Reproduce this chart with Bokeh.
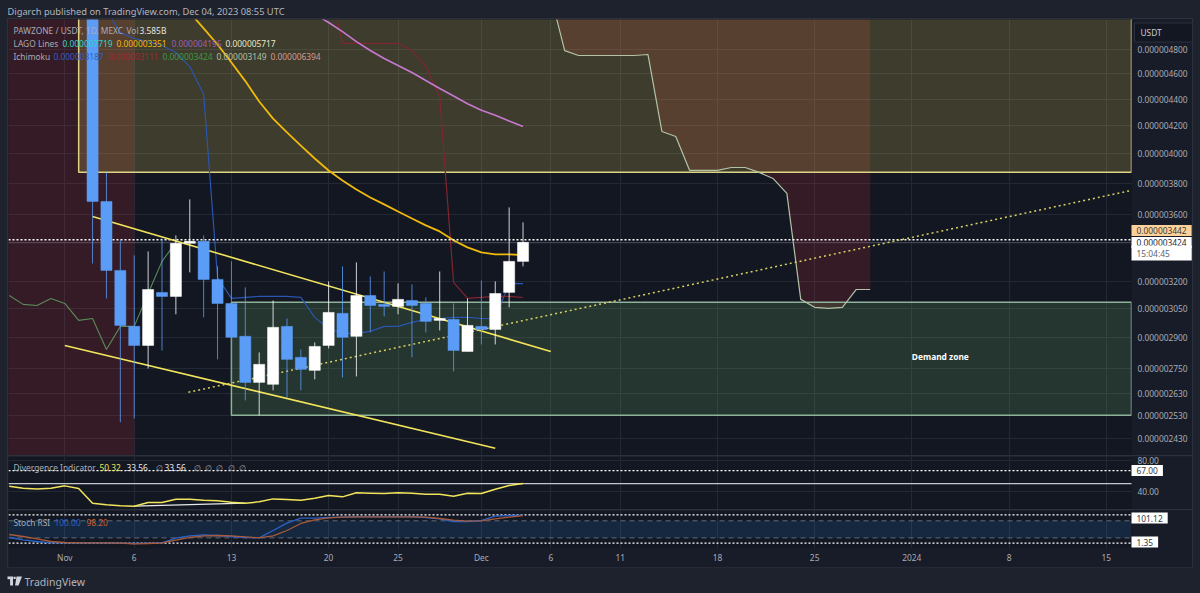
from bokeh.embed import file_html
from bokeh.resources import INLINE
from bokeh.layouts import column
from bokeh.models import (FixedTicker, Label, PrintfTickFormatter, Range1d)
from bokeh.plotting import figure
import numpy as np

# ---------- data (prices in billionths of USDT, days counted from 1 Nov 2023)
tick_days = [0, 5, 12, 19, 24, 30, 35, 40, 47, 54, 61, 68, 75]
tick_labels = ["Nov", "6", "13", "20", "25", "Dec", "6", "11", "18", "25", "2024", "8", "15"]
price_ticks = [4800, 4600, 4400, 4200, 4000, 3800, 3600, 3200, 3050, 2900, 2750, 2630, 2530, 2430]

candle_days = list(range(2, 34))
opens = [5300,3680,3262,2958,2861,3139,3117,3420,3432,3211,3079,2907,2682,2673,2958,2802,2739,2861,3026,2907,3122,3074,3063,3095,3079,2989,2994,2831,2958,2942,3139,3314]
closes = [3680,3262,2963,2861,3155,3117,3420,3432,3211,3079,2902,2682,2768,2953,2792,2744,2856,3031,2902,3122,3068,3063,3101,3068,2984,2999,2836,2963,2942,3133,3314,3426]
highs = [5600,3872,3438,3349,3372,3450,3468,3693,3468,3285,3314,3167,2826,3095,2999,2841,2876,3200,3285,3308,3228,3256,3189,3183,3112,3256,3079,3106,3205,3200,3642,3548]
lows = [3302,3106,2501,2518,2748,2836,3021,3251,3005,2792,2677,2599,2532,2645,2612,2645,2696,2846,2705,2710,2927,3010,3021,2802,2927,2937,2734,2831,2866,2866,3058,3285]

ma_days = list(range(9, 34))
ma_values = [5121,4980,4842,4692,4542,4383,4254,4152,4058,3967,3885,3818,3758,3706,3661,3616,3572,3529,3492,3438,3396,3366,3355,3355,3351]
purple_days = list(range(18, 34))
purple_values = [5105,5032,4952,4867,4792,4725,4668,4611,4547,4484,4425,4366,4316,4279,4236,4196]
conversion_days = list(range(3, 34))
conversion_values = [5139,4944,4893,4867,4834,4775,4659,4440,3222,3106,3112,3117,3117,3117,3112,3005,2947,2922,2922,2932,2958,2958,2979,2994,2999,3005,3005,2999,2999,3189,3187]
base_days = list(range(19, 34))
base_values = [5400,4851,4851,4851,4851,4851,4792,4659,4420,3194,3106,3112,3117,3117,3111]
lagging_days = list(range(-4, 9))
lagging_values = [3122,3074,3068,3106,3079,2989,2999,2841,2958,2958,3133,3314,3426]
span_days = list(range(35, 59))
span_values = [5275,4790,4750,4750,4750,4750,4750,4758,4159,4123,3885,3885,3885,3905,3905,3872,3831,3732,3101,3058,3052,3058,3155,3155]
cloud_top = 6394
cloud_left_days = [-5, 5]
cloud_left_top = [6394, 6394]
cloud_left_bottom = [2300, 2300]

supply_zone = dict(day=1, bottom=3872, top=7000)
demand_zone = dict(day=12, bottom=2532, top=3085)
channel_upper = ([2, 35], [3585, 2831])
channel_lower = ([0, 31], [2861, 2390])
dotted_trend = ([8.9, 76.82], [2636, 3752])
last_high_price = 3442
last_price = 3424

osc_days = list(range(-4, 34))
rsi_values = [46.9,44.3,43.4,44.3,47.3,43.9,24.9,22.8,21.5,21.1,25.8,25.8,30.1,30.1,28.8,28,26.3,24.9,26.7,30.5,29.7,28.8,31.4,34.9,33.1,38.3,37.9,37.4,38.3,37.9,36.6,36.6,34,37.9,37.4,43,47.8,50.32]
rsi_div_days = [5, 13]
rsi_div_values = [21.1, 24.9]
rsi_ticks = [80, 40]
rsi_levels = (67.0, 50.3)
stoch_k = [21.4,13.2,7.3,2.7,2.7,2.7,2.7,2.7,1.5,0.3,1.5,2.7,19,27.2,30.8,28.4,24.9,21.4,20.2,46,71.7,89.3,89.3,91.6,92.8,94,94,94,94,94,91.6,87,77.6,77.6,81.1,96.3,98.7,100]
stoch_d = [31.9,24.9,16.7,7.3,3.8,2.7,2.7,2.7,1.5,-0.9,0.3,2.7,12,21.4,27.2,28.4,27.2,23.7,20.2,27.2,46,70.6,83.4,90.5,92.8,94,94,94,94,94,92.8,88.1,82.2,78.8,80,87,92.8,98.2]
stoch_bands = (80, 20)
stoch_extremes = (101.12, 1.35)

NANO = 1e-9
def P(v):
    return list(np.array(v, dtype=float) * NANO)

# ---------- style
FONT = "Noto Sans"
FS = "8.4px"
PANE = "#131722"
AXIS_BG = "#181c28"
OUTER = "#1e222d"
GRID = "#232835"
GREY = "#a8acb6"
BORDER = "#2c303c"
BLUE = "#5b9cf6"
XL, XR = -4.054, 76.82   # the part of the frame that holds the chart
XEND = 81.212            # the rest of the frame holds the price scale
WIDTH = 1184
TAG_X = 1123

def make_pane(height, y_range, y_type="linear", bottom=0, ticks=()):
    f = figure(width=WIDTH, height=height + bottom, x_range=Range1d(XL, XEND), y_range=y_range,
               y_axis_type=y_type, output_backend="svg", toolbar_location=None,
               y_axis_location="right", x_axis_location="below" if bottom else None,
               min_border_left=0, min_border_right=0, min_border_top=0, min_border_bottom=bottom,
               background_fill_color=PANE, border_fill_color=AXIS_BG, outline_line_color=None,
               margin=(0, 8, 0, 8), styles={"outline": f"1px solid {BORDER}"})
    ax = f.yaxis[0]
    ax.fixed_location = XR
    ax.ticker = FixedTicker(ticks=list(ticks), minor_ticks=[])
    ax.axis_line_color = None
    ax.major_tick_line_color = None
    ax.minor_tick_line_color = None
    ax.major_tick_out = 0
    ax.major_tick_in = 0
    ax.major_label_text_color = GREY
    ax.major_label_text_font = FONT
    ax.major_label_text_font_size = FS
    ax.major_label_standoff = 6
    f.xgrid[0].ticker = FixedTicker(ticks=tick_days, minor_ticks=[])
    f.xgrid[0].grid_line_color = GRID
    f.ygrid[0].grid_line_color = GRID
    return f

def scale_mask(f, low, high):
    """Price-scale background over the right end of the frame."""
    f.quad(left=XR, right=XEND + 1, bottom=low, top=high, fill_color=AXIS_BG, line_color=None)

def text(f, s, x, y, color=GREY, size=FS, style="normal", bg=None, pad=0, border=None):
    """x is measured from the frame's left edge, y from its bottom edge, in pixels."""
    f.add_layout(Label(x=x, y=y, x_units="screen", y_units="screen", text=s, text_color=color,
                       text_font=FONT, text_font_size=size, text_font_style=style,
                       text_baseline="middle", text_align="left",
                       background_fill_color=bg, padding=pad, border_line_color=border))

# ---------- main price pane (page y 19..456)
y_low, y_high = 2356 * NANO, 5058.5 * NANO
main = make_pane(437, Range1d(y_low, y_high), "log", ticks=P(price_ticks))
main.yaxis[0].formatter = PrintfTickFormatter(format="%.9f")
main.varea(cloud_left_days, P(cloud_left_bottom), P(cloud_left_top), fill_color="#f23645", fill_alpha=0.15)
main.varea(span_days, P(span_values), P([cloud_top] * len(span_days)), fill_color="#f23645", fill_alpha=0.15)
main.quad(left=supply_zone["day"], right=XR, bottom=supply_zone["bottom"] * NANO, top=supply_zone["top"] * NANO,
          fill_color="#ffeb64", fill_alpha=0.18, line_color="#dcd384", line_width=1.5)
main.quad(left=demand_zone["day"], right=XR, bottom=demand_zone["bottom"] * NANO, top=demand_zone["top"] * NANO,
          fill_color="#83c76e", fill_alpha=0.17, line_color="#8fb39a", line_width=1.5)
scale_mask(main, y_low * 0.9, y_high * 1.1)
main.line(lagging_days, P(lagging_values), line_color="#5a8a58", line_width=1.1)
main.line(span_days, P(span_values), line_color="#b2c2a6", line_width=1.2)
main.line(conversion_days, P(conversion_values), line_color="#2b55b0", line_width=1.2)
main.line(base_days, P(base_values), line_color="#80262f", line_width=1.2)
main.line(purple_days, P(purple_values), line_color="#c878d0", line_width=1.6)
main.line(ma_days, P(ma_values), line_color="#f0b90b", line_width=1.8)
main.line([XL, XR], P([last_high_price] * 2), line_color="#ffffff", line_width=1.4, line_dash=[2, 2])
main.line([XL, XR], P([last_price] * 2), line_color="#8d93a3", line_width=0.9, line_dash=[1, 1])
main.line(channel_upper[0], P(channel_upper[1]), line_color="#f2e55c", line_width=1.6)
main.line(channel_lower[0], P(channel_lower[1]), line_color="#f2e55c", line_width=1.6)
main.line(dotted_trend[0], P(dotted_trend[1]), line_color="#d8d060", line_width=1.5, line_dash=[2, 3])

colors = ["#ffffff" if c >= o else BLUE for o, c in zip(opens, closes)]
main.segment(candle_days, P(highs), candle_days, P(lows), line_color=colors, line_width=1, line_alpha=0.8)
main.vbar(candle_days, 0.8, P(np.maximum(opens, closes)), P(np.minimum(opens, closes)),
          fill_color=colors, line_color=colors, line_width=0.5)
main.add_layout(Label(x=61, y=2807 * NANO, text="Demand zone", text_color="#ffffff", text_font=FONT,
                      text_font_size="8.4px", text_font_style="bold", text_baseline="middle"))

def ly(page_y):
    return 456 - page_y
for s, x, c in [("PAWZONE / USDT, 1D, MEXC", 5, GREY), ("Vol", 118, GREY), ("3.585B", 131, "#e6e6e6")]:
    text(main, s, x, ly(30), c)
for s, x, c in [("LAGO Lines", 5, GREY), ("0.000007719", 54, "#2dd4c8"), ("0.000003351", 108, "#f0b90b"),
                ("0.000004196", 163, "#a45fb0"), ("0.000005717", 217, "#e8e8c8")]:
    text(main, s, x, ly(43), c)
for s, x, c in [("Ichimoku", 5, GREY), ("0.000003187", 45, "#2f5fc8"), ("0.000003111", 100, "#a02830"),
                ("0.000003424", 154, "#3f9a44"), ("0.000003149", 208, "#b2c2a6"), ("0.000006394", 262, "#d89a90")]:
    text(main, s, x, ly(56), c)

TAG_PAD = (5, 5, 2, 2)
text(main, "USDT", 1126, ly(32), "#c8ccd4", bg="#131722", pad=(6, 31, 4, 4), border=BORDER)
text(main, "0.000003442", TAG_X, ly(230), "#3a3a3a", bg="#fcd29a", pad=TAG_PAD)
text(main, "0.000003424", TAG_X, ly(242), "#222631", bg="#ffffff", pad=TAG_PAD)
text(main, "15:04:45", TAG_X, ly(252.5), "#5c6270", bg="#ffffff", pad=(5, 22, 2, 2))

# ---------- divergence / RSI pane (page y 456..510)
rsi = make_pane(54, Range1d(15.5, 85.2), ticks=rsi_ticks)
rsi.yaxis[0].formatter = PrintfTickFormatter(format="%.2f")
scale_mask(rsi, 0, 100)
rsi.line([XL, XR], [rsi_levels[0]] * 2, line_color="#ffffff", line_width=1.3, line_dash=[2, 2])
rsi.line([XL, XR], [rsi_levels[1]] * 2, line_color="#c4c7cf", line_width=1.2)
rsi.line(rsi_div_days, rsi_div_values, line_color="#e8e8e8", line_width=1.2)
rsi.line(osc_days, rsi_values, line_color="#f2e55c", line_width=1.5)
def ly2(page_y):
    return 510 - page_y
for s, x, c in [("Divergence Indicator", 5, GREY), ("50.32", 91, "#f2e55c"), ("33.56", 118, "#e8e8e8"),
                ("∅", 147, GREY), ("33.56", 156, "#e8e8e8"), ("∅", 185, GREY), ("∅", 196, GREY),
                ("∅", 207, GREY), ("∅", 219, GREY), ("∅", 230, GREY)]:
    text(rsi, s, x, ly2(467), c)
text(rsi, "67.00", TAG_X, ly2(470), "#333844", bg="#ffffff", pad=TAG_PAD)

# ---------- stochastic RSI pane (page y 510..548) with the date axis (548..567)
sto = make_pane(38, Range1d(-17.3, 116.2), bottom=19, ticks=[])
xa = sto.xaxis[0]
xa.ticker = FixedTicker(ticks=tick_days, minor_ticks=[])
xa.major_label_overrides = {d: t for d, t in zip(tick_days, tick_labels)}
xa.axis_line_color = None
xa.major_tick_line_color = None
xa.minor_tick_line_color = None
xa.major_tick_out = 0
xa.major_tick_in = 0
xa.major_label_text_color = GREY
xa.major_label_text_font = FONT
xa.major_label_text_font_size = FS
xa.major_label_standoff = 3
sto.varea([XL, XR], [stoch_bands[1]] * 2, [stoch_bands[0]] * 2, fill_color="#2196f3", fill_alpha=0.14)
scale_mask(sto, -40, 140)
for lv in stoch_bands:
    sto.line([XL, XR], [lv] * 2, line_color="#6a7080", line_width=0.9, line_dash=[5, 4])
for lv in stoch_extremes:
    sto.line([XL, XR], [lv] * 2, line_color="#ffffff", line_width=1.3, line_dash=[2, 2])
sto.line(osc_days, stoch_k, line_color="#2b63c8", line_width=1.3)
sto.line(osc_days, stoch_d, line_color="#a85a3a", line_width=1.3)
def ly3(page_y):
    return 548 - page_y
for s, x, c in [("Stoch RSI", 5, GREY), ("100.00", 46, "#2b63c8"), ("98.20", 78, "#c8642c")]:
    text(sto, s, x, ly3(522), c)
text(sto, "101.12", TAG_X, ly3(517.5), "#333844", bg="#ffffff", pad=TAG_PAD)
text(sto, "1.35", TAG_X, ly3(541.5), "#333844", bg="#ffffff", pad=TAG_PAD)

# ---------- header and footer strips
def strip(height):
    f = figure(width=1200, height=height, x_range=Range1d(0, 1200), y_range=Range1d(height, 0),
               output_backend="svg", toolbar_location=None, x_axis_location=None, y_axis_location=None,
               min_border=0, background_fill_color=OUTER, border_fill_color=OUTER, outline_line_color=None)
    f.grid.visible = False
    return f

header = strip(19)
text(header, "Digarch published on TradingView.com, Dec 04, 2023 08:55 UTC", 7, 8, "#b2b5be", "9.3px")
footer = strip(26)
logo_x = [[7, 12.5, 12.5, 9.6, 9.6, 7], [16, 21.5, 18, 14.6], [13, 15.2, 15.2, 13]]
logo_y = [[9, 9, 18, 18, 11.8, 11.8], [9, 9, 18, 18], [9.2, 9.2, 11.4, 11.4]]
footer.patches(logo_x, logo_y, fill_color="#d1d4dc", line_color=None)
text(footer, "TradingView", 24, 12, "#b2b5be", "10.5px")

p = column(header, main, rsi, sto, footer, spacing=0, styles={"background": OUTER})
html = file_html(p, INLINE)
html = html.replace("<head>", f"<head><style>html,body{{margin:0;padding:0;background:{OUTER};overflow:hidden}}</style>", 1)
open("out.html", "w").write(html)
